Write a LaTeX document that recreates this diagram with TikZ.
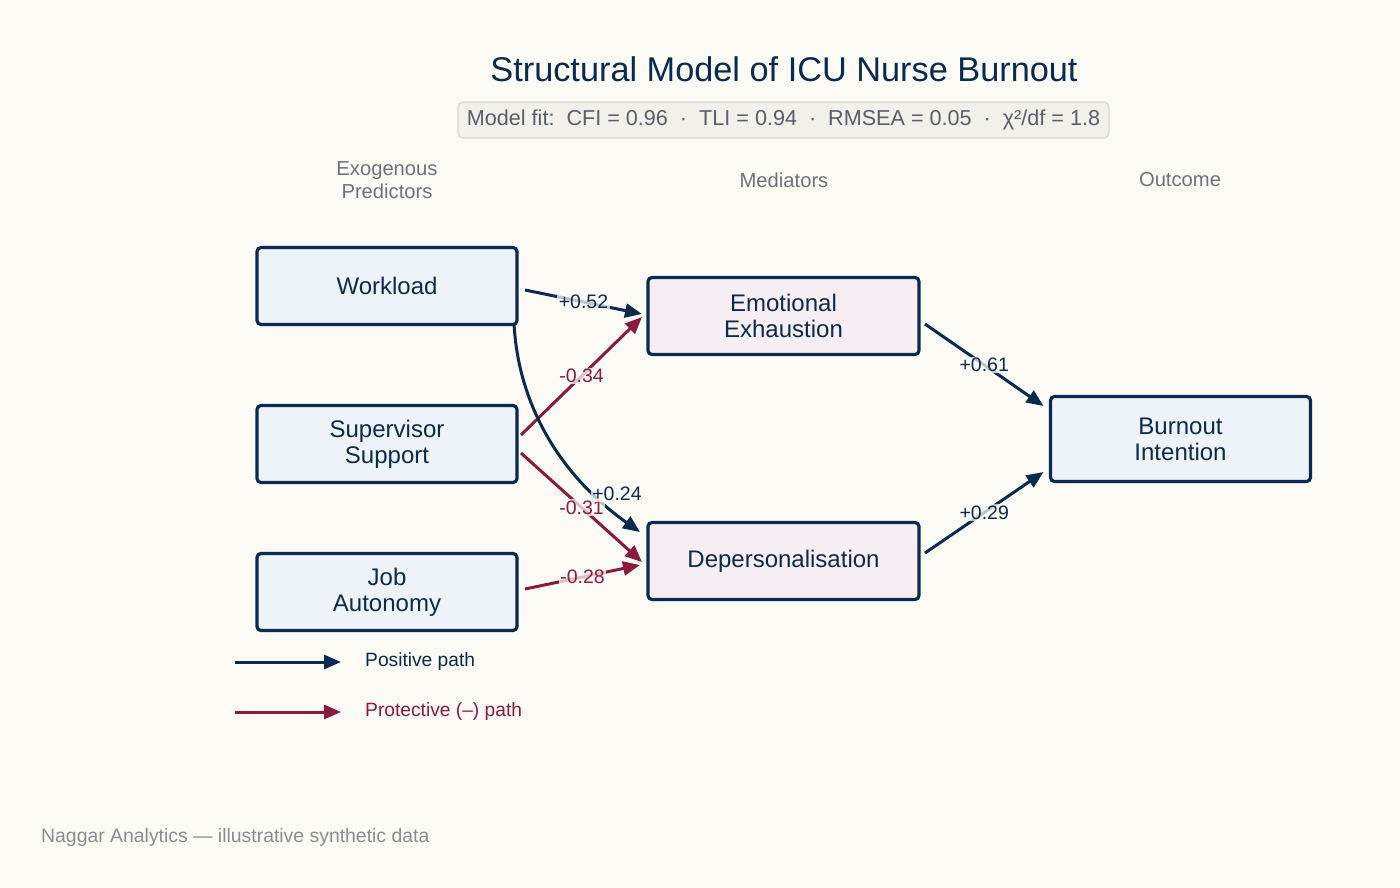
\documentclass[tikz,border=0pt]{standalone}
\usepackage{fontspec}
\setmainfont{Liberation Sans}
\usetikzlibrary{arrows.meta,calc}
\definecolor{navy}{HTML}{0B2A4F}
\definecolor{wine}{HTML}{8C1A3C}
\definecolor{bgcol}{HTML}{FBFAF4}
\definecolor{bluefill}{HTML}{EEF2F9}
\definecolor{pinkfill}{HTML}{F6EEF3}
\definecolor{headgray}{HTML}{6E717B}
\definecolor{fitgray}{HTML}{5A5E6A}
\definecolor{fitfill}{HTML}{F2F0EA}
\definecolor{fitdraw}{HTML}{DAD7CF}
\definecolor{footgray}{HTML}{8A8C93}
\pgfdeclarelayer{bglayer}
\pgfdeclarelayer{edgelayer}
\pgfsetlayers{bglayer,edgelayer,main}
\tikzset{
  box/.style={draw=navy, line width=3.2pt, rounded corners=4pt, minimum width=260pt,
    minimum height=77pt, align=center, text=navy, inner sep=0pt, outer sep=0pt,
    font=\fontsize{24}{26}\selectfont},
  predbox/.style={box, fill=bluefill},
  medbox/.style={box, fill=pinkfill, minimum width=271pt},
  outbox/.style={box, fill=bluefill, minimum height=85pt},
  edgebase/.style={line width=3pt, -{Triangle[length=17pt,width=14pt]}},
  posedge/.style={edgebase, draw=navy},
  negedge/.style={edgebase, draw=wine},
  lbl/.style={font=\fontsize{19.5}{22}\selectfont, fill=bgcol, fill opacity=0.75, text opacity=1, inner sep=1.5pt},
  poslbl/.style={lbl, text=navy},
  neglbl/.style={lbl, text=wine},
  colhead/.style={font=\fontsize{20.2}{23}\selectfont, text=headgray, align=center},
}
\begin{document}
\begin{tikzpicture}[x=1pt,y=-1pt]
\begin{pgfonlayer}{bglayer}
\fill[bgcol] (0,0) rectangle (1400,888);
\end{pgfonlayer}
\useasboundingbox (0,0) rectangle (1400,888);

% title
\node[font=\fontsize{34.3}{38}\selectfont, text=navy] (title) at (784,69) {Structural Model of ICU Nurse Burnout};
\node[draw=fitdraw, fill=fitfill, line width=1.2pt, rounded corners=5pt, minimum width=651pt, minimum height=36pt,
      inner sep=0pt, text=fitgray, font=\fontsize{21.6}{24}\selectfont] (fit) at (783.5,120)
  {Model fit:\ \ CFI = 0.96\ \ ·\ \ TLI = 0.94\ \ ·\ \ RMSEA = 0.05\ \ ·\ \ χ²/df = 1.8};

% column headers
\node[colhead] (h1) at (387,180) {Exogenous\\Predictors};
\node[colhead] (h2) at (784,180) {Mediators};
\node[colhead] (h3) at (1180,180) {Outcome};

% boxes
\node[predbox] (wl) at (387,286) {Workload};
\node[predbox] (ss) at (387,444) {Supervisor\\Support};
\node[predbox] (ja) at (387,592) {Job\\Autonomy};
\node[medbox] (ee) at (783.5,316) {Emotional\\Exhaustion};
\node[medbox] (dp) at (783.5,561) {Depersonalisation};
\node[outbox] (bi) at (1180.5,439) {Burnout\\Intention};

% edges
\begin{pgfonlayer}{edgelayer}
\draw[posedge] ($(wl.east)+(8,4)$) -- coordinate (m1) ($(ee.west)+(-6,-2)$);
\draw[negedge] ($(ss.east)+(4,-9)$) -- coordinate (m2) ($(ee.west)+(-6,1)$);
\draw[posedge] ($(wl.south east)+(-3,-2)$) .. controls ($(wl.south east)+(1,84)$) and ($(wl.south east)+(47,154)$) .. ($(dp.west)+(-8,-29)$);
\draw[negedge] ($(ss.east)+(4,9)$) -- coordinate (m4) ($(dp.west)+(-6,1)$);
\draw[negedge] ($(ja.east)+(8,-3)$) -- coordinate (m5) ($(dp.west)+(-8,4)$);
\draw[posedge] ($(ee.east)+(6,8)$) -- coordinate (m6) ($(bi.west)+(-7,-33)$);
\draw[posedge] ($(dp.east)+(6,-8)$) -- coordinate (m7) ($(bi.west)+(-7,33)$);
\end{pgfonlayer}

% labels
\node[poslbl] (l1) at (m1) {+0.52};
\node[neglbl] (l2) at (m2) {-0.34};
\node[neglbl] (l4) at (m4) {-0.31};
\node[poslbl] (l3) at (617,494) {+0.24};
\node[neglbl] (l5) at (m5) {-0.28};
\node[poslbl] (l6) at (m6) {+0.61};
\node[poslbl] (l7) at (m7) {+0.29};

% legend
\coordinate (lg1a) at (235,662);
\coordinate (lg1b) at (341,662);
\coordinate (lg2a) at (235,712);
\coordinate (lg2b) at (341,712);
\draw[posedge] (lg1a) -- (lg1b);
\draw[negedge] (lg2a) -- (lg2b);
\node[anchor=west, text=navy, font=\fontsize{19.2}{22}\selectfont, inner sep=0pt] (lgt1) at (365,662) {Positive path};
\node[anchor=west, text=wine, font=\fontsize{19.2}{22}\selectfont, inner sep=0pt] (lgt2) at (365,712) {Protective (–) path};

% footer
\node[anchor=west, text=footgray, font=\fontsize{19.4}{22}\selectfont, inner sep=0pt] (foot) at (41,837) {Naggar Analytics — illustrative synthetic data};
\end{tikzpicture}
\end{document}
